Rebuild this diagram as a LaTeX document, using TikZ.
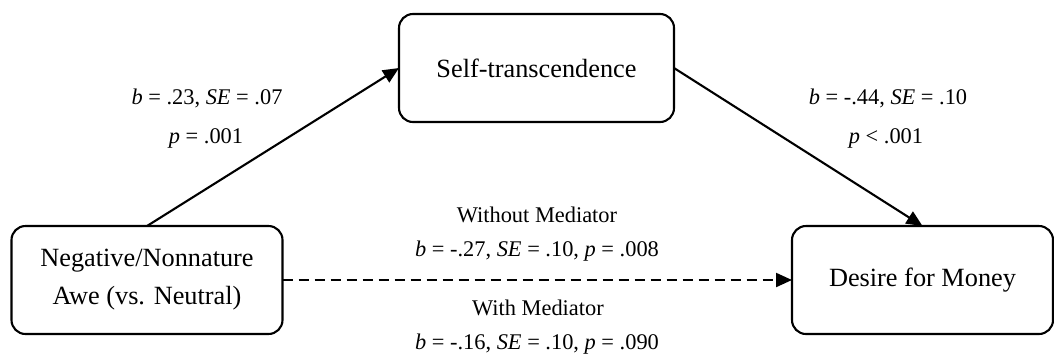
\documentclass[tikz,border=0pt]{standalone}
\usepackage{fontspec}
\setmainfont{Liberation Serif}
\usetikzlibrary{arrows.meta}
\begin{document}
\begin{tikzpicture}[x=1pt,y=-1pt,
  boxnode/.style={draw, line width=2.1pt, rounded corners=14pt, minimum height=108pt,
    inner sep=0pt, outer sep=0pt, align=center,
    font=\fontsize{26.3}{38}\selectfont},
  lbl/.style={anchor=base, inner sep=0pt, font=\fontsize{22.4}{27}\selectfont},
  conn/.style={line width=2.1pt, -{Triangle[length=16pt,width=14pt]}}
]
\useasboundingbox (0,0) rectangle (1054,357);
\node[boxnode, minimum width=271pt] (iv) at (147,280) {Negative/Nonnature\\Awe (vs. Neutral)};
\node[boxnode, minimum width=275pt] (med) at (536.5,68) {Self-transcendence};
\node[boxnode, minimum width=261pt] (dv) at (922.5,280) {Desire for Money};

\draw[conn] (iv.north) -- (med.west);
\draw[conn] (med.east) -- (dv.north);
\draw[conn, dash pattern=on 10pt off 6pt] (iv.east) -- (dv.west);

\node[lbl] (a1) at (207,104) {\textit{b} = .23, \textit{SE} = .07};
\node[lbl] (a2) at (206,143) {\textit{p} = .001};
\node[lbl] (b1) at (888,104) {\textit{b} = -.44, \textit{SE} = .10};
\node[lbl] (b2) at (886,143) {\textit{p} < .001};
\node[lbl] (c0) at (537,222) {Without Mediator};
\node[lbl] (c1) at (537,256) {\textit{b} = -.27, \textit{SE} = .10, \textit{p} = .008};
\node[lbl] (c2) at (538,315) {With Mediator};
\node[lbl] (c3) at (537,349) {\textit{b} = -.16, \textit{SE} = .10, \textit{p} = .090};
\end{tikzpicture}
\end{document}
